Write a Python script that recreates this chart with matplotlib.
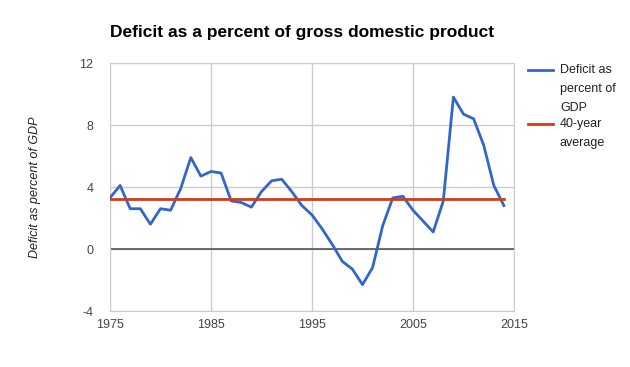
import numpy as np
import matplotlib.pyplot as plt
from matplotlib.lines import Line2D

plt.rcParams['font.family'] = ['Liberation Sans', 'DejaVu Sans']
plt.rcParams['axes.unicode_minus'] = False

anos = list(range(1975, 2015))
deficit = [3.3, 4.1, 2.6, 2.6, 1.6, 2.6, 2.5, 3.9, 5.9, 4.7,
           5.0, 4.9, 3.1, 3.0, 2.7, 3.7, 4.4, 4.5, 3.7, 2.8,
           2.2, 1.3, 0.3, -0.8, -1.3, -2.3, -1.2, 1.5, 3.3, 3.4,
           2.5, 1.8, 1.1, 3.1, 9.8, 8.7, 8.4, 6.7, 4.1, 2.8]
media_40 = 3.2
xticks = [1975, 1985, 1995, 2005, 2015]
yticks = [-4, 0, 4, 8, 12]

azul = '#3366cc'
vermelho = '#dc3912'
cinza = '#cccccc'

fig = plt.figure(figsize=(6.3, 3.67), dpi=100)
ax = fig.add_axes([110/630, 1 - 311/367, 404/630, 248/367])

ax.plot(anos, deficit, color=azul, lw=2, zorder=3)
ax.plot([anos[0], anos[-1]], [media_40, media_40], color=vermelho, lw=2, zorder=3)
ax.axhline(0, color='#555555', lw=1.2, zorder=2)

ax.set_xlim(1975, 2015)
ax.set_ylim(-4, 12)
ax.set_xticks(xticks)
ax.set_yticks(yticks)
ax.grid(True, color=cinza, lw=1, zorder=0)
for s in ax.spines.values():
    s.set_color(cinza)
ax.tick_params(length=0, labelsize=9, colors='#444444')
ax.tick_params(axis='y', pad=12)
ax.tick_params(axis='x', pad=6)

fig.text(110/630, 1 - 33/367, 'Deficit as a percent of gross domestic product',
         fontsize=12.5, fontweight='bold', va='center', ha='left')
fig.text(35/630, 1 - 187/367, 'Deficit as percent of GDP', rotation=90,
         fontsize=9, style='italic', va='center', ha='center', color='#222222')

# legenda manual
fig.add_artist(Line2D([528/630, 553/630], [1 - 70/367] * 2, color=azul, lw=2))
fig.add_artist(Line2D([528/630, 553/630], [1 - 124/367] * 2, color=vermelho, lw=2))
linhas = [('Deficit as', 70), ('percent of', 89), ('GDP', 108),
          ('40-year', 124), ('average', 143)]
for txt, y in linhas:
    fig.text(560/630, 1 - y/367, txt, fontsize=9, va='center', ha='left', color='#222222')

fig.savefig('out.png', dpi=100)
